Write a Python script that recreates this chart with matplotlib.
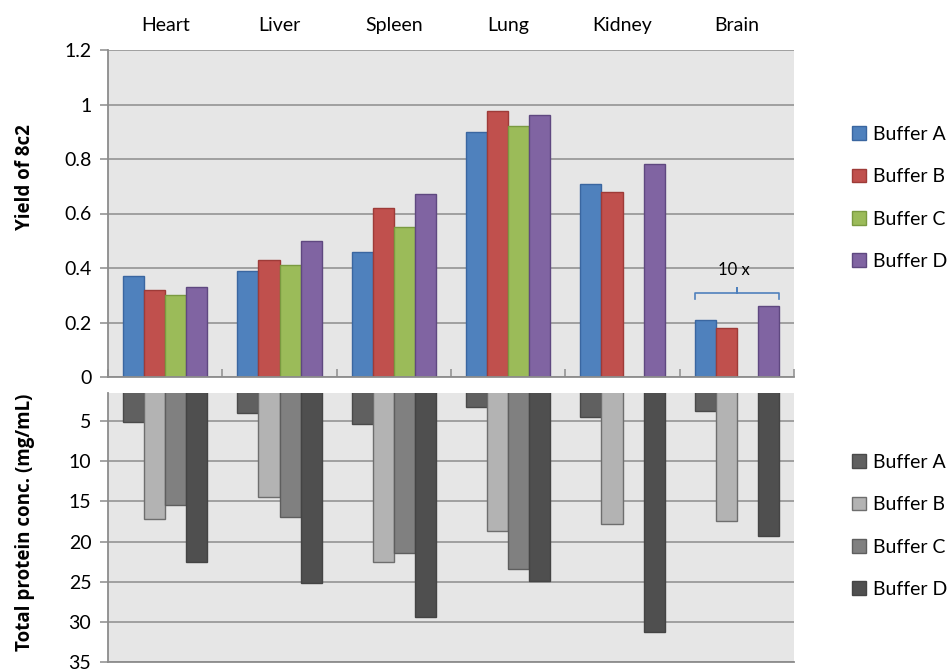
"""Yield of 8c2 and total protein concentration per tissue and buffer"""

import matplotlib.pyplot as plt
import numpy as np
from matplotlib.patches import Patch

plt.rcParams["font.family"] = ["Lato", "DejaVu Sans"]

TISSUES = ["Heart", "Liver", "Spleen", "Lung", "Kidney", "Brain"]
BUFFERS = ["Buffer A", "Buffer B", "Buffer C", "Buffer D"]

# Yield of 8c2 (top panel); missing bars are NaN
YIELD_A = [0.37, 0.39, 0.46, 0.90, 0.71, 0.21]
YIELD_B = [0.32, 0.43, 0.62, 0.975, 0.68, 0.18]
YIELD_C = [0.30, 0.41, 0.55, 0.92, np.nan, np.nan]
YIELD_D = [0.33, 0.50, 0.67, 0.96, 0.78, 0.26]

# Total protein conc. in mg/mL (bottom panel)
PROT_A = [5.1, 4.0, 5.3, 3.2, 4.5, 3.8]
PROT_B = [17.2, 14.5, 22.5, 18.7, 17.8, 17.4]
PROT_C = [15.5, 16.9, 21.4, 23.4, np.nan, np.nan]
PROT_D = [22.5, 25.1, 29.4, 24.9, 31.3, 19.3]

YIELD_TICKS = [0, 0.2, 0.4, 0.6, 0.8, 1.0, 1.2]
YIELD_TICK_LABELS = ["0", "0.2", "0.4", "0.6", "0.8", "1", "1.2"]
PROT_TICKS = [5, 10, 15, 20, 25, 30, 35]

TOP_COLORS = ["#4F81BD", "#C0504D", "#9BBB59", "#8064A2"]
TOP_EDGES = ["#3A66A0", "#9E3B38", "#7A9A40", "#5F4880"]
BOT_COLORS = ["#606060", "#B3B3B3", "#808080", "#4F4F4F"]
BOT_EDGES = ["#4A4A4A", "#6E6E6E", "#5E5E5E", "#444444"]

BG = "#E6E6E6"
GRID = "#8C8C8C"
FS = 14
LABEL_FONT = dict(fontsize=13.5, fontweight="bold", family=["Open Sans", "DejaVu Sans"])

W, H = 949, 672
fig = plt.figure(figsize=(W / 100, H / 100), dpi=100)


def _px_axes(left, top, right, bottom):
    return fig.add_axes([left / W, 1 - bottom / H, (right - left) / W, (bottom - top) / H])


ax_top = _px_axes(108, 50, 794, 377)
ax_bot = _px_axes(108, 393, 794, 662)

x = np.arange(len(TISSUES))
bar_w = 0.185
offsets = (np.arange(4) - 1.5) * bar_w

for ax in (ax_top, ax_bot):
    ax.set_facecolor(BG)
    ax.set_xlim(-0.5, len(TISSUES) - 0.5)
    ax.set_axisbelow(True)
    ax.yaxis.grid(True, color=GRID, linewidth=1.1)
    for side in ("top", "right"):
        ax.spines[side].set_visible(False)
    for side in ("left", "bottom"):
        ax.spines[side].set_color(GRID)
        ax.spines[side].set_linewidth(1.3)
    ax.tick_params(axis="y", colors=GRID, length=6, width=1.1, labelsize=FS,
                   labelcolor="black", pad=6)

# top panel
for i, vals in enumerate([YIELD_A, YIELD_B, YIELD_C, YIELD_D]):
    ax_top.bar(x + offsets[i], vals, width=bar_w, color=TOP_COLORS[i],
               edgecolor=TOP_EDGES[i], linewidth=1.0, label=BUFFERS[i])

ax_top.set_ylim(0, 1.2)
ax_top.set_yticks(YIELD_TICKS)
ax_top.set_yticklabels(YIELD_TICK_LABELS)
ax_top.set_xticks(x)
ax_top.set_xticklabels(TISSUES, fontsize=FS)
ax_top.set_xticks(np.arange(len(TISSUES) + 1) - 0.5, minor=True)
ax_top.tick_params(axis="x", which="major", bottom=False, top=False,
                   labelbottom=False, labeltop=True, pad=8)
ax_top.tick_params(axis="x", which="minor", bottom=True, top=False,
                   direction="in", length=6, color=GRID, width=1.1)
ax_top.set_ylabel("Yield of 8c2", **LABEL_FONT)
ax_top.yaxis.set_label_coords(-0.107, 0.61)

# brace over the Brain bars, marking the 10x scaling
b = len(TISSUES) - 1
bx0 = x[b] + offsets[0] - bar_w / 2
bx1 = x[b] + offsets[3] + bar_w / 2
bxm = (bx0 + bx1) / 2
by = 0.308
ax_top.plot([bx0, bx0, bxm, bxm, bxm, bx1, bx1],
            [by - 0.02, by, by, by + 0.02, by, by, by - 0.02],
            color="#4F81BD", linewidth=1.2, solid_joinstyle="round")
ax_top.text(bxm - 0.03, by + 0.085, "10 x", ha="center", va="center", fontsize=12)

# bottom panel
for i, vals in enumerate([PROT_A, PROT_B, PROT_C, PROT_D]):
    ax_bot.bar(x + offsets[i], vals, width=bar_w, color=BOT_COLORS[i],
               edgecolor=BOT_EDGES[i], linewidth=1.0, label=BUFFERS[i])

ax_bot.set_ylim(35, 1.5)
ax_bot.set_yticks(PROT_TICKS)
ax_bot.set_yticklabels([str(t) for t in PROT_TICKS])
ax_bot.set_xticks([])
ax_bot.set_ylabel("Total protein conc. (mg/mL)", **LABEL_FONT)
ax_bot.yaxis.set_label_coords(-0.107, 0.52)

# legends
def _legend(colors, edges, top_px):
    handles = [Patch(facecolor=c, edgecolor=e, linewidth=1.0) for c, e in zip(colors, edges)]
    fig.legend(handles, BUFFERS, loc="upper left",
               bbox_to_anchor=(852 / W, 1 - top_px / H), frameon=False,
               fontsize=FS, handlelength=0.7, handleheight=0.7,
               handletextpad=0.4, labelspacing=1.3, borderaxespad=0, borderpad=0)


_legend(TOP_COLORS, TOP_EDGES, 126)
_legend(BOT_COLORS, BOT_EDGES, 454)

fig.savefig("out.png", dpi=100)
